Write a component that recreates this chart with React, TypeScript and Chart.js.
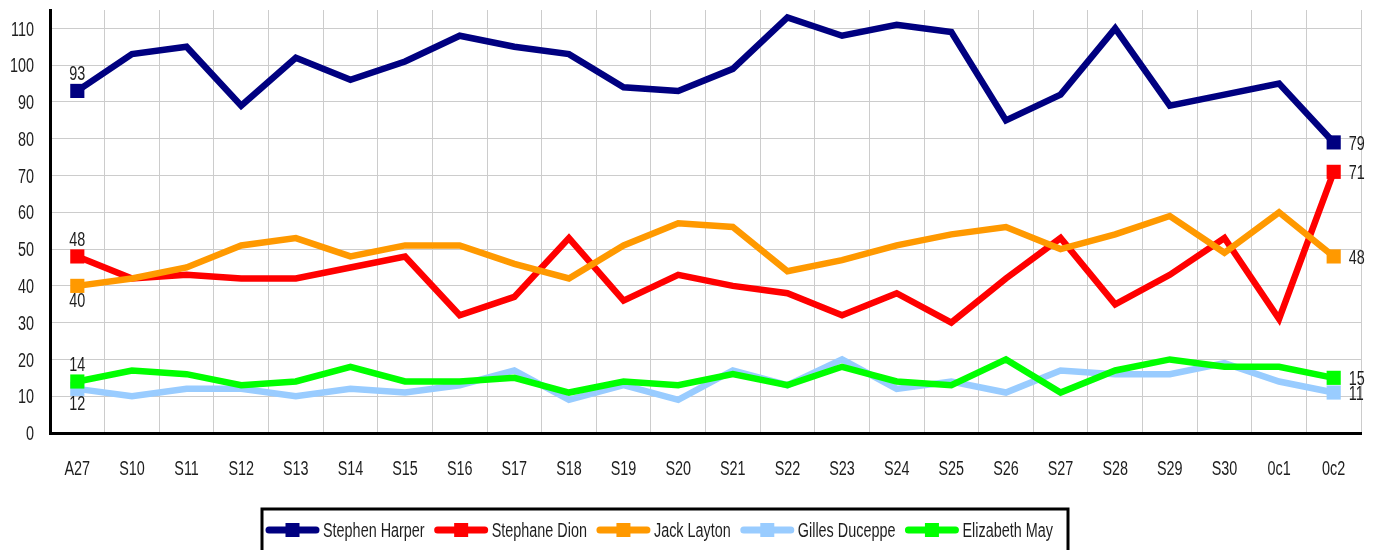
import React, { useEffect, useRef } from "react";
import { Chart, registerables } from "chart.js";

Chart.register(...registerables);

const categories = [
  "A27", "S10", "S11", "S12", "S13", "S14", "S15", "S16", "S17", "S18", "S19", "S20",
  "S21", "S22", "S23", "S24", "S25", "S26", "S27", "S28", "S29", "S30", "0c1", "0c2",
];

const seriesNames = ["Stephen Harper", "Stephane Dion", "Jack Layton", "Gilles Duceppe", "Elizabeth May"];

const harper = [93, 103, 105, 89, 102, 96, 101, 108, 105, 103, 94, 93, 99, 113, 108, 111, 109, 85, 92, 110, 89, 92, 95, 79];
const dion = [48, 42, 43, 42, 42, 45, 48, 32, 37, 53, 36, 43, 40, 38, 32, 38, 30, 42, 53, 35, 43, 53, 31, 71];
const layton = [40, 42, 45, 51, 53, 48, 51, 51, 46, 42, 51, 57, 56, 44, 47, 51, 54, 56, 50, 54, 59, 49, 60, 48];
const duceppe = [12, 10, 12, 12, 10, 12, 11, 13, 17, 9, 13, 9, 17, 13, 20, 12, 14, 11, 17, 16, 16, 19, 14, 11];
const may = [14, 17, 16, 13, 14, 18, 14, 14, 15, 11, 14, 13, 16, 13, 18, 14, 13, 20, 11, 17, 20, 18, 18, 15];

const yTickValues = [0, 10, 20, 30, 40, 50, 60, 70, 80, 90, 100, 110];

const seriesValues = [harper, dion, layton, duceppe, may];
const seriesColors = ["#000080", "#ff0000", "#ff9900", "#99ccff", "#00ff00"];
const firstLabelBelow = [false, false, true, true, false];

const FONT_FAMILY = '"Liberation Sans", Arial, sans-serif';
const TEXT_COLOR = "#1e1e1e";
const FONT_SIZE = 20;
const SQUEEZE = 0.72;
const CAP = 0.716;

// draw narrow text: horizontally squeezed, vertically centred on cy (cap-height centre)
function narrowText(ctx: CanvasRenderingContext2D, text: string, x: number, cy: number, align: "left" | "center" | "right") {
  ctx.font = `${FONT_SIZE}px ${FONT_FAMILY}`;
  ctx.textAlign = "left";
  ctx.textBaseline = "alphabetic";
  const w = ctx.measureText(text).width * SQUEEZE;
  let left = x;
  if (align === "center") left = x - w / 2;
  else if (align === "right") left = x - w;
  ctx.save();
  ctx.translate(left, cy + (CAP * FONT_SIZE) / 2);
  ctx.scale(SQUEEZE, 1);
  ctx.fillText(text, 0, 0);
  ctx.restore();
  return w;
}

const textPlugin = {
  id: "narrowTexts",
  afterDraw(chart: any) {
    const ctx = chart.ctx as CanvasRenderingContext2D;
    ctx.save();
    ctx.fillStyle = TEXT_COLOR;
    // axis tick labels
    const xs = chart.scales.x;
    const ys = chart.scales.y;
    categories.forEach((c, i) => {
      narrowText(ctx, c, xs.getPixelForValue(i), 468, "center");
    });
    yTickValues.forEach((v) => {
      narrowText(ctx, String(v), 34, ys.getPixelForValue(v), "right");
    });
    // first / last point labels
    chart.data.datasets.forEach((ds: any, i: number) => {
      const pts = chart.getDatasetMeta(i).data;
      const first = pts[0];
      const last = pts[pts.length - 1];
      narrowText(ctx, String(ds.data[0]), first.x, first.y + (firstLabelBelow[i] ? 14 : -18), "center");
      narrowText(ctx, String(ds.data[ds.data.length - 1]), last.x + 15, last.y, "left");
    });
    // legend
    const left = 262;
    const right = 1068;
    const top = 509;
    ctx.strokeStyle = "#000";
    ctx.lineWidth = 3;
    ctx.strokeRect(left, top, right - left, 80);
    const cy = 530;
    let x = 265;
    chart.data.datasets.forEach((ds: any) => {
      ctx.strokeStyle = ds.borderColor;
      ctx.lineWidth = 7;
      ctx.lineCap = "round";
      ctx.beginPath();
      ctx.moveTo(x + 4, cy);
      ctx.lineTo(x + 51, cy);
      ctx.stroke();
      ctx.fillStyle = ds.borderColor;
      ctx.fillRect(x + 27.5 - 7, cy - 7, 14, 14);
      x += 58;
      ctx.fillStyle = TEXT_COLOR;
      const w = narrowText(ctx, ds.label, x, cy, "left");
      x += w + 9;
    });
    ctx.restore();
  },
};

export default function App() {
  const canvasRef = useRef<HTMLCanvasElement | null>(null);

  useEffect(() => {
    if (!canvasRef.current) return;
    const n = categories.length;
    const chart = new Chart(canvasRef.current, {
      type: "line",
      data: {
        labels: categories,
        datasets: seriesNames.map((name, i) => ({
          label: name,
          data: seriesValues[i],
          borderColor: seriesColors[i],
          backgroundColor: seriesColors[i],
          borderWidth: 6.5,
          tension: 0,
          fill: false,
          order: seriesNames.length - 1 - i,
          pointStyle: "rect",
          pointRadius: (c: any) => (c.dataIndex === 0 || c.dataIndex === n - 1 ? 10 : 0),
          pointBackgroundColor: seriesColors[i],
          pointBorderWidth: 0,
          pointHoverRadius: 0,
        })),
      },
      options: {
        responsive: false,
        animation: false,
        devicePixelRatio: 1,
        events: [],
        layout: { padding: { top: 10, right: 16, left: 0, bottom: 0 } },
        plugins: {
          legend: { display: false },
          tooltip: { enabled: false },
        },
        scales: {
          x: {
            type: "category",
            offset: true,
            grid: { offset: true, color: "#cccccc", lineWidth: 1, drawTicks: false },
            border: { display: true, color: "#000", width: 3 },
            ticks: { display: false, autoSkip: false },
            afterFit: (scale: any) => {
              scale.height = 117;
            },
          },
          y: {
            min: 0,
            max: 115,
            grid: { color: "#cccccc", lineWidth: 1, drawTicks: false },
            border: { display: true, color: "#000", width: 3 },
            afterBuildTicks: (scale: any) => {
              scale.ticks = yTickValues.map((v) => ({ value: v }));
            },
            ticks: { display: false },
            afterFit: (scale: any) => {
              scale.width = 50;
            },
          },
        },
      },
      plugins: [textPlugin],
    } as any);
    return () => chart.destroy();
  }, []);

  return (
    <div style={{ position: "fixed", left: 0, top: 0, width: 1377, height: 550, background: "#fff" }}>
      <canvas ref={canvasRef} width={1377} height={550} style={{ display: "block" }} />
    </div>
  );
}
